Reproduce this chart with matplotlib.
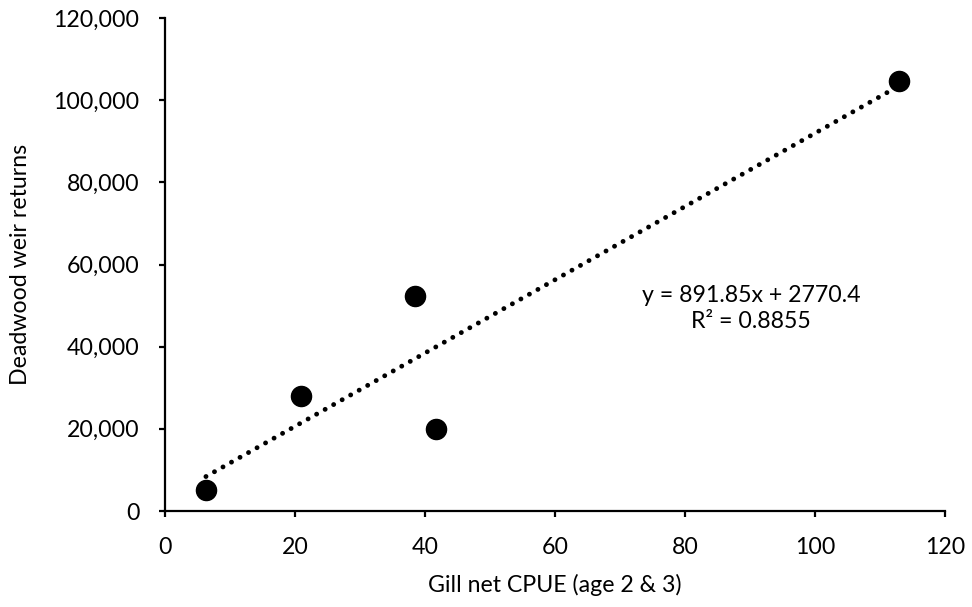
import numpy as np
import matplotlib
matplotlib.use('Agg')
from matplotlib import pyplot as plt
import matplotlib.ticker as ticker

plt.rcParams['font.family'] = ['Lato', 'DejaVu Sans']

# gill net catch per unit effort vs. weir returns
cpue = [6.3, 20.9, 38.5, 41.7, 112.9]
returns = [5100, 28000, 52400, 20000, 104600]

# linear trend (Excel fit)
slope = 891.85
intercept = 2770.4
r_squared = 0.8855

FS = 16.7

fig = plt.figure(figsize=(9.72, 6.07), dpi=100)
ax = fig.add_axes([165 / 972, 96 / 607, 780 / 972, 493 / 607])

x_fit = np.array([min(cpue), max(cpue)])
ax.plot(x_fit, slope * x_fit + intercept, color='black', linewidth=3.5,
        linestyle=(0, (0.01, 2)), dash_capstyle='round', zorder=2)
ax.scatter(cpue, returns, s=210, color='black', zorder=3)

ax.set_xlim(0, 120)
ax.set_ylim(0, 120000)
ax.xaxis.set_major_locator(ticker.MultipleLocator(20))
ax.yaxis.set_major_locator(ticker.MultipleLocator(20000))
ax.yaxis.set_major_formatter(ticker.FuncFormatter(lambda v, p: f'{int(v):,}'))

for side in ['top', 'right']:
    ax.spines[side].set_visible(False)
for side in ['left', 'bottom']:
    ax.spines[side].set_linewidth(1.6)
ax.tick_params(direction='out', length=4.5, width=1.6, labelsize=FS, pad=14)

ax.set_xlabel('Gill net CPUE (age 2 & 3)', fontsize=FS)
ax.set_ylabel('Deadwood weir returns', fontsize=FS)
ax.xaxis.set_label_coords(0.5, (607 - 585 - 96) / 493)
ax.xaxis.label.set_va('center')
ax.yaxis.set_label_coords((21 - 165) / 780, 0.5)
ax.yaxis.label.set_va('center')

ax.text(90.2, 49300, f'y = {slope}x + {intercept}\nR² = {r_squared}',
        ha='center', va='center', fontsize=FS, linespacing=1.25)

fig.savefig('out.png', dpi=100)
